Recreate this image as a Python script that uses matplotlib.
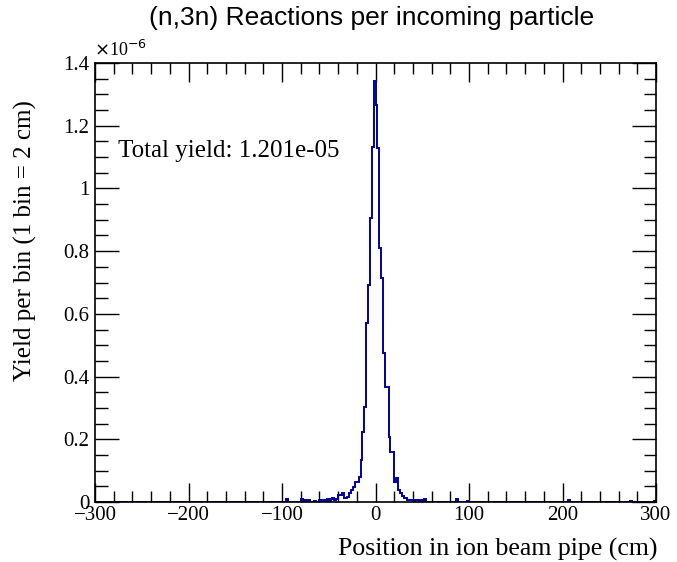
import numpy as np
import matplotlib.pyplot as plt
from matplotlib.ticker import MultipleLocator, FuncFormatter

# histogram: 2 cm bins from -300 to 300 cm, values in units of 1e-6
bin_width = 2
x_min, x_max = -300, 300

# left edge of each non-empty bin (cm) and its content (x 1e-6)
bin_left = [-96, -80, -76, -72, -66, -60, -56, -52, -48, -46,
            -44, -42, -40, -38, -36, -34, -32, -30, -28, -26,
            -24, -22, -20, -18, -16, -14, -12, -10, -8, -6,
            -4, -2, 0, 2, 4, 6, 8, 10, 12, 14,
            16, 18, 20, 22, 24, 26, 28, 30, 32, 34,
            36, 38, 40, 42, 44, 48, 52, 86, 98, 206,
            272, 298]
bin_value = [0.008, 0.008, 0.006, 0.006, 0.004, 0.006, 0.006, 0.008, 0.010, 0.012,
             0.006, 0.010, 0.022, 0.022, 0.028, 0.013, 0.013, 0.017, 0.028, 0.038,
             0.049, 0.065, 0.065, 0.081, 0.134, 0.224, 0.304, 0.570, 0.692, 0.905,
             1.133, 1.342, 1.266, 1.128, 0.809, 0.713, 0.474, 0.368, 0.368, 0.208,
             0.160, 0.160, 0.065, 0.076, 0.038, 0.030, 0.019, 0.013, 0.013, 0.006,
             0.006, 0.006, 0.003, 0.006, 0.006, 0.006, 0.010, 0.008, 0.004, 0.006,
             0.004, 0.004]

title = "(n,3n) Reactions per incoming particle"
x_label = "Position in ion beam pipe (cm)"
y_label = "Yield per bin (1 bin = 2 cm)"
yield_text = "Total yield: 1.201e-05"

edges = np.arange(x_min, x_max + bin_width, bin_width)
counts = np.zeros(len(edges) - 1)
for left, val in zip(bin_left, bin_value):
    counts[(left - x_min) // bin_width] = val

serif = "Liberation Serif"
sans = "Liberation Sans"

fig = plt.figure(figsize=(6.77, 5.62), dpi=100)
ax = fig.add_axes([95 / 677, 60 / 562, 561 / 677, 439 / 562])

ax.stairs(counts, edges, color="#0000a0", linewidth=1.4, zorder=2)

ax.set_xlim(x_min, x_max)
ax.set_ylim(0, 1.4)

ax.xaxis.set_major_locator(MultipleLocator(100))
ax.xaxis.set_minor_locator(MultipleLocator(20))
ax.yaxis.set_major_locator(MultipleLocator(0.2))
ax.yaxis.set_minor_locator(MultipleLocator(0.05))
ax.yaxis.set_major_formatter(FuncFormatter(lambda v, p: "%g" % round(v, 2)))

ax.tick_params(which="both", direction="in", top=True, right=True, width=1.0,
               labelsize=15, pad=3)
ax.tick_params(axis="x", which="major", length=14)
ax.tick_params(axis="x", which="minor", length=8)
ax.tick_params(axis="y", which="major", length=17)
ax.tick_params(axis="y", which="minor", length=9)
ax.tick_params(axis="y", pad=4)
for lab in ax.get_xticklabels() + ax.get_yticklabels():
    lab.set_fontfamily(serif)
for sp in ax.spines.values():
    sp.set_linewidth(1.2)

fig.text(657 / 677, 1 - 549 / 562, x_label, fontfamily=serif, fontsize=18.6,
         ha="right", va="center")
fig.text(25 / 677, 1 - 241 / 562, y_label, fontfamily=serif, fontsize=18,
         rotation=90, ha="center", va="center")

ax.text(-0.002, 1.006, r"$\times$10$^{-6}$", transform=ax.transAxes, fontfamily=serif,
        fontsize=13, ha="left", va="bottom")
ax.text(-275, 1.12, yield_text, fontfamily=serif, fontsize=18, ha="left", va="center")

fig.text(372 / 677, 1 - 18 / 562, title, fontfamily=sans, fontsize=19, ha="center", va="center")

fig.savefig("out.png", dpi=100)
